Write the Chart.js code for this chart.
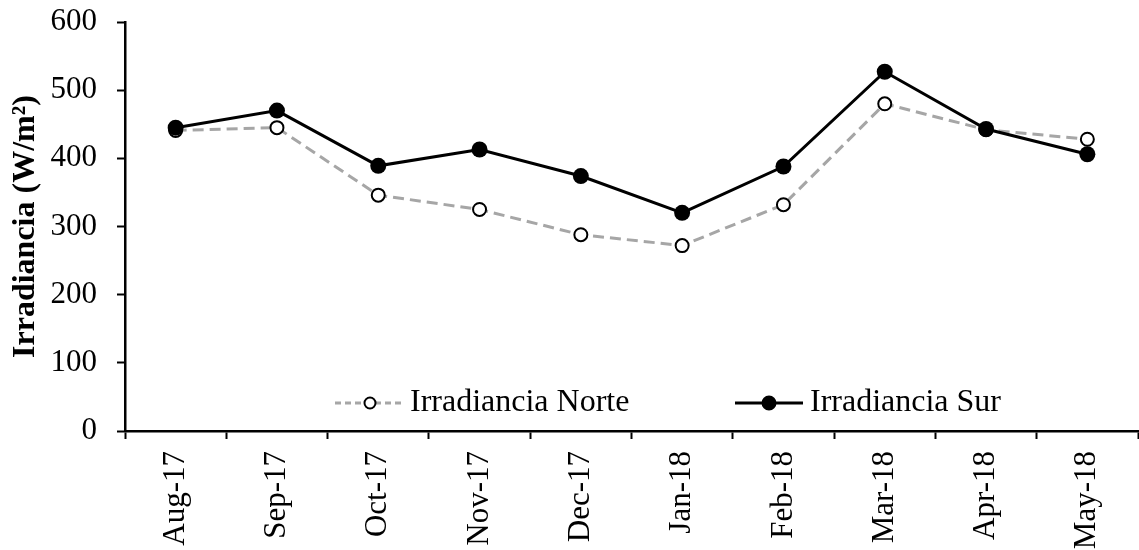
<!DOCTYPE html>
<html>
<head>
<meta charset="utf-8">
<script src="https://cdn.jsdelivr.net/npm/chart.js@4/dist/chart.umd.min.js"></script>
<style>
  html, body { margin: 0; padding: 0; background: #ffffff; }
  #wrap { width: 1139px; height: 550px; position: relative; }
</style>
</head>
<body>
<div id="wrap"><canvas id="c" width="1139" height="550"></canvas></div>
<script>
// Monthly mean irradiance (W/m²), north and south orientation
const months = ['Aug-17', 'Sep-17', 'Oct-17', 'Nov-17', 'Dec-17', 'Jan-18', 'Feb-18', 'Mar-18', 'Apr-18', 'May-18'];
const irradianciaNorte = [441, 445, 346, 325, 288, 272, 332, 480, 442, 428];
const irradianciaSur   = [445, 470, 389, 413, 374, 320, 388, 527, 443, 406];
const yTicks = [0, 100, 200, 300, 400, 500, 600];

const FONT = 'Liberation Serif, "Times New Roman", serif';
const GRAY = '#A6A6A6';

// Legend drawn inside the plot area, near its bottom
const innerLegend = {
  id: 'innerLegend',
  afterDraw(chart) {
    const ctx = chart.ctx;
    const items = [
      { text: 'Irradiancia Norte', x0: 335, x1: 405, dash: [6, 4], color: GRAY, fill: '#ffffff', r: 5.5, tx: 410 },
      { text: 'Irradiancia Sur',   x0: 735, x1: 803, dash: [],     color: '#000000', fill: '#000000', r: 6.5, tx: 810 }
    ];
    const y = 403;
    ctx.save();
    items.forEach(it => {
      ctx.beginPath();
      ctx.setLineDash(it.dash);
      ctx.strokeStyle = it.color;
      ctx.lineWidth = 3;
      ctx.moveTo(it.x0, y);
      ctx.lineTo(it.x1, y);
      ctx.stroke();
      ctx.setLineDash([]);
      ctx.beginPath();
      ctx.arc((it.x0 + it.x1) / 2, y, it.r, 0, Math.PI * 2);
      ctx.fillStyle = it.fill;
      ctx.fill();
      ctx.lineWidth = 2;
      ctx.strokeStyle = '#000000';
      ctx.stroke();
      ctx.fillStyle = '#000000';
      ctx.font = '32px ' + FONT;
      ctx.textBaseline = 'middle';
      ctx.textAlign = 'left';
      ctx.fillText(it.text, it.tx, y);
    });
    ctx.restore();
  }
};

new Chart(document.getElementById('c'), {
  type: 'line',
  data: {
    labels: months,
    datasets: [
      {
        label: 'Irradiancia Norte',
        data: irradianciaNorte,
        order: 1,
        borderColor: GRAY,
        borderWidth: 3,
        borderDash: [11, 6],
        pointRadius: 6.5,
        pointBorderWidth: 2,
        pointBorderColor: '#000000',
        pointBackgroundColor: '#ffffff',
        tension: 0
      },
      {
        label: 'Irradiancia Sur',
        data: irradianciaSur,
        order: 0,
        borderColor: '#000000',
        borderWidth: 3,
        pointRadius: 8,
        pointBorderWidth: 0,
        pointBackgroundColor: '#000000',
        tension: 0
      }
    ]
  },
  options: {
    responsive: false,
    animation: false,
    layout: { autoPadding: false, padding: { top: 22, right: 1, bottom: 0, left: 0 } },
    plugins: {
      legend: { display: false },
      tooltip: { enabled: false }
    },
    scales: {
      x: {
        type: 'category',
        offset: true,
        grid: {
          offset: true,
          drawOnChartArea: false,
          drawTicks: true,
          tickLength: 8,
          tickWidth: 2,
          tickColor: '#000000'
        },
        border: { color: '#000000', width: 2.5 },
        ticks: {
          color: '#000000',
          font: { family: FONT, size: 31 },
          minRotation: 90,
          maxRotation: 90,
          padding: 12,
          autoSkip: false
        },
        afterFit(scale) {
          scale.height = 119;
          scale.paddingLeft = 0;
          scale.paddingRight = 0;
        }
      },
      y: {
        min: 0,
        max: 600,
        afterBuildTicks(scale) {
          scale.ticks = yTicks.map(v => ({ value: v }));
        },
        grid: {
          drawOnChartArea: false,
          drawTicks: true,
          tickLength: 8,
          tickWidth: 2,
          tickColor: '#000000'
        },
        border: { color: '#000000', width: 2.5 },
        ticks: {
          color: '#000000',
          font: { family: FONT, size: 31 },
          padding: 20
        },
        title: {
          display: true,
          text: 'Irradiancia (W/m²)',
          color: '#000000',
          font: { family: FONT, size: 32, weight: 'bold', lineHeight: 1.2 },
          padding: { top: 7, bottom: 0 }
        },
        afterFit(scale) {
          scale.width = 125;
          scale.paddingTop = 0;
          scale.paddingBottom = 0;
        }
      }
    }
  },
  plugins: [innerLegend]
});
</script>
</body>
</html>
